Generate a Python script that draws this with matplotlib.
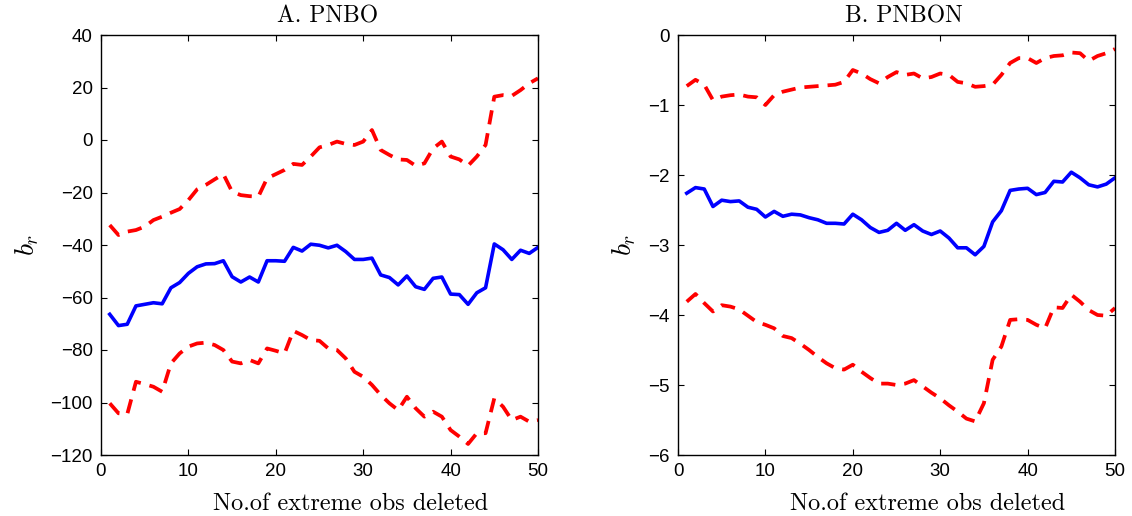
import numpy as np
import matplotlib
matplotlib.use("Agg")
import matplotlib.pyplot as plt

n_deleted = list(range(1, 51))

pnbo_est = [-66.4, -70.7, -70.2, -63.2, -62.6, -62.0, -62.4, -56.3, -54.3, -50.8,
            -48.3, -47.2, -47.1, -46.0, -52.1, -54.1, -52.2, -54.1, -46.0, -46.0,
            -46.2, -40.9, -42.3, -39.7, -40.1, -41.1, -40.1, -42.5, -45.5, -45.5,
            -45.0, -51.4, -52.4, -55.2, -51.8, -55.9, -56.9, -52.7, -52.2, -58.7,
            -58.9, -62.6, -58.2, -56.3, -39.6, -41.8, -45.5, -42.0, -43.2, -40.9]
pnbo_upper = [-32.4, -36.2, -34.9, -34.3, -33.0, -30.5, -29.2, -27.7, -26.3, -22.9,
              -18.8, -17.1, -15.0, -13.0, -19.7, -21.0, -21.4, -21.6, -14.6, -13.0,
              -11.4, -9.1, -9.5, -6.3, -2.8, -1.9, -0.6, -1.5, -1.9, -0.6,
              3.8, -3.8, -5.7, -7.4, -7.6, -9.8, -8.9, -3.2, -0.6, -6.3,
              -7.4, -9.8, -6.3, -1.9, 16.5, 17.1, 16.8, 19.0, 21.6, 23.5]
pnbo_lower = [-100.3, -104.1, -104.5, -92.1, -93.0, -94.0, -95.9, -85.1, -81.3, -78.7,
              -77.5, -77.2, -78.1, -80.0, -84.4, -85.1, -83.8, -85.1, -79.4, -80.3,
              -81.3, -72.7, -74.3, -76.2, -76.5, -79.4, -80.0, -83.2, -88.3, -90.2,
              -93.3, -97.1, -100.3, -102.9, -97.8, -102.2, -105.4, -103.5, -105.4, -110.5,
              -113.0, -115.8, -111.7, -111.7, -98.4, -101.6, -106.7, -105.4, -107.3, -106.7]

pnbon_est = [-2.26, -2.18, -2.20, -2.45, -2.36, -2.38, -2.37, -2.46, -2.49, -2.60,
             -2.52, -2.59, -2.56, -2.57, -2.61, -2.64, -2.69, -2.69, -2.70, -2.56,
             -2.64, -2.75, -2.82, -2.79, -2.69, -2.79, -2.71, -2.80, -2.85, -2.80,
             -2.90, -3.04, -3.04, -3.14, -3.02, -2.67, -2.51, -2.22, -2.20, -2.19,
             -2.28, -2.25, -2.09, -2.10, -1.96, -2.04, -2.14, -2.17, -2.13, -2.04]
pnbon_upper = [-0.73, -0.64, -0.71, -0.93, -0.88, -0.86, -0.85, -0.88, -0.89, -1.00,
               -0.86, -0.81, -0.78, -0.75, -0.74, -0.73, -0.72, -0.71, -0.67, -0.50,
               -0.55, -0.63, -0.69, -0.60, -0.53, -0.57, -0.55, -0.62, -0.60, -0.55,
               -0.57, -0.67, -0.69, -0.74, -0.73, -0.71, -0.57, -0.40, -0.33, -0.33,
               -0.40, -0.33, -0.30, -0.29, -0.25, -0.26, -0.37, -0.30, -0.26, -0.20]
pnbon_lower = [-3.81, -3.70, -3.83, -3.95, -3.86, -3.88, -3.92, -4.01, -4.10, -4.14,
               -4.19, -4.30, -4.33, -4.41, -4.50, -4.60, -4.69, -4.76, -4.78, -4.71,
               -4.81, -4.90, -4.98, -4.98, -5.00, -4.98, -4.93, -5.02, -5.11, -5.19,
               -5.29, -5.38, -5.48, -5.52, -5.26, -4.64, -4.45, -4.07, -4.06, -4.07,
               -4.14, -4.19, -3.89, -3.90, -3.71, -3.81, -3.93, -4.00, -4.01, -3.90]

titles = ["A. PNBO", "B. PNBON"]
xlabel = "No.of extreme obs deleted"
ylabel = "$b_r$"
x_ticks = [0, 10, 20, 30, 40, 50]
y_ticks_a = [-120, -100, -80, -60, -40, -20, 0, 20, 40]
y_ticks_b = [-6, -5, -4, -3, -2, -1, 0]

plt.rcParams['mathtext.fontset'] = 'cm'
plt.rcParams['axes.unicode_minus'] = True

W, H = 1132, 516
fig = plt.figure(figsize=(W / 100, H / 100), dpi=100)

def make_ax(left_px, right_px):
    return fig.add_axes([left_px / W, (H - 455) / H, (right_px - left_px) / W, 420 / H])

axA = make_ax(101, 538)
axB = make_ax(678, 1115)

panels = [
    (axA, pnbo_est, pnbo_upper, pnbo_lower, y_ticks_a, titles[0]),
    (axB, pnbon_est, pnbon_upper, pnbon_lower, y_ticks_b, titles[1]),
]

serif = ['cmr10', 'DejaVu Serif']
for ax, est, up, lo, yt, title in panels:
    ax.plot(n_deleted, up, color=(1, 0, 0), lw=2.7, linestyle=(0, (3.8, 2.4)),
            dash_capstyle='butt')
    ax.plot(n_deleted, lo, color=(1, 0, 0), lw=2.7, linestyle=(0, (3.8, 2.4)),
            dash_capstyle='butt')
    ax.plot(n_deleted, est, color=(0, 0, 1), lw=2.6)
    ax.set_xlim(0, 50)
    ax.set_ylim(yt[0], yt[-1])
    ax.set_xticks(x_ticks)
    ax.set_yticks(yt)
    ax.tick_params(direction='in', top=True, right=True, length=4, width=0.8,
                   labelsize=13.5, pad=6)
    for lab in ax.get_xticklabels() + ax.get_yticklabels():
        lab.set_family('Liberation Sans')
    for s in ax.spines.values():
        s.set_linewidth(1.0)
    ax.set_title(title, family=serif, fontsize=17, x=0.518, y=1.0286, pad=0)
    ax.set_xlabel(xlabel, family=serif, fontsize=17.5, va='baseline')
    ax.xaxis.set_label_coords(0.572, -0.131)
    ax.set_ylabel(ylabel, fontsize=20, labelpad=7)

fig.savefig("out.png", dpi=100, facecolor='white')
